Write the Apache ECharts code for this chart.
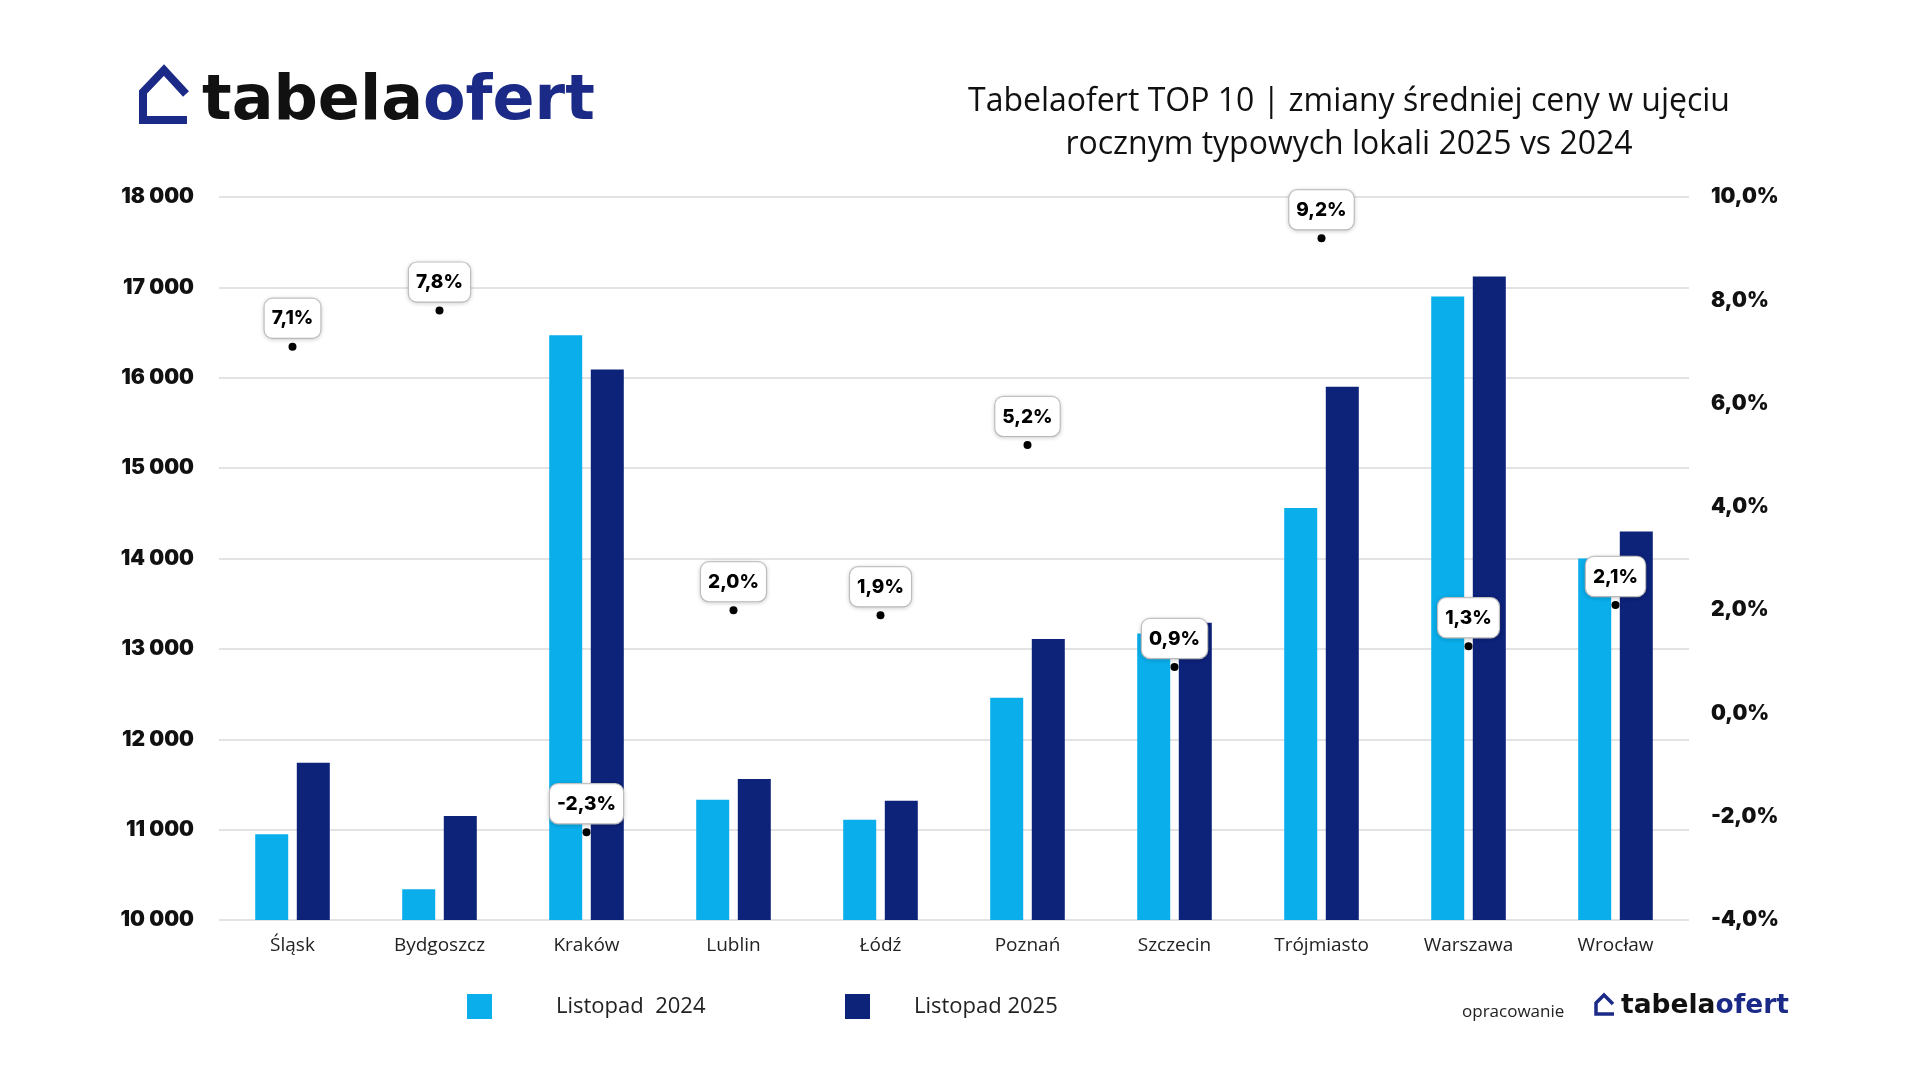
<!DOCTYPE html>
<html>
<head>
<meta charset="utf-8">
<script src="https://cdn.jsdelivr.net/npm/echarts@6/dist/echarts.min.js"></script>
<style>
html,body{margin:0;padding:0;background:#fff;}
#chart{width:1920px;height:1080px;}
</style>
</head>
<body>
<div id="chart"></div>
<script>
const categories = ['Śląsk','Bydgoszcz','Kraków','Lublin','Łódź','Poznań','Szczecin','Trójmiasto','Warszawa','Wrocław'];
const seriesNames = ['Listopad  2024','Listopad 2025','Zmiana r/r'];
const prices2024 = [10950, 10340, 16470, 11330, 11110, 12460, 13170, 14560, 16900, 14000];
const prices2025 = [11740, 11150, 16090, 11560, 11320, 13110, 13290, 15900, 17120, 14300];
const changePct = [7.1, 7.8, -2.3, 2.0, 1.9, 5.2, 0.9, 9.2, 1.3, 2.1];
const titleLines = ['Tabelaofert TOP 10 | zmiany średniej ceny w ujęciu','rocznym typowych lokali 2025 vs 2024'];

const LIGHT = '#0AAEEB';
const DARK = '#0D2279';
const NAVY = '#1B2A86';

const chart = echarts.init(document.getElementById('chart'), null, {renderer:'canvas'});

const fmtThousands = v => String(v).replace(/\B(?=(\d{3})+(?!\d))/g, ' ');
const fmtPct = v => v.toFixed(1).replace('.', ',') + '%';

const legendBase = {
  top: 994, padding: 0, itemWidth: 25, itemHeight: 25, icon: 'rect'
};

const option = {
  backgroundColor: '#ffffff',
  animation: false,
  title: {
    text: titleLines.join('\n'),
    left: 1344, top: 75, textAlign: 'center',
    textStyle: {fontFamily: 'Open Sans', fontWeight: 'normal', fontSize: 32, lineHeight: 43, color: '#111'}
  },
  legend: [
    Object.assign({}, legendBase, {
      data: [seriesNames[0]], left: 467,
      textStyle: {fontFamily: 'Open Sans', fontSize: 22, color: '#222', padding: [0,0,0,59]}
    }),
    Object.assign({}, legendBase, {
      data: [seriesNames[1]], left: 845,
      textStyle: {fontFamily: 'Open Sans', fontSize: 22, color: '#222', padding: [0,0,0,39]}
    })
  ],
  grid: {left: 219, right: 231, top: 197, bottom: 160},
  xAxis: {
    type: 'category', data: categories,
    axisLine: {show: false}, axisTick: {show: false},
    axisLabel: {fontFamily: 'Open Sans', fontSize: 19, color: '#222', margin: 16}
  },
  yAxis: [
    {
      type: 'value', min: 10000, max: 18000, interval: 1000,
      axisLine: {show: false}, axisTick: {show: false},
      splitLine: {lineStyle: {color: '#DADADA', width: 1.5}},
      axisLabel: {formatter: fmtThousands, fontFamily: 'Inter', fontWeight: 900, fontSize: 21, color: '#111', margin: 25}
    },
    {
      type: 'value', min: -4, max: 10, interval: 2, position: 'right',
      axisLine: {show: false}, axisTick: {show: false}, splitLine: {show: false},
      axisLabel: {formatter: fmtPct, fontFamily: 'Inter', fontWeight: 900, fontSize: 21, color: '#111', margin: 22}
    }
  ],
  series: [
    {name: seriesNames[0], type: 'bar', data: prices2024, barWidth: 33, barGap: '26%', itemStyle: {color: LIGHT}},
    {name: seriesNames[1], type: 'bar', data: prices2025, barWidth: 33, itemStyle: {color: DARK}},
    {
      name: seriesNames[2], type: 'scatter', yAxisIndex: 1, data: changePct,
      symbol: 'circle', symbolSize: 8, itemStyle: {color: '#000', opacity: 1}, z: 10,
      label: {
        show: true, position: 'top', distance: 5,
        formatter: p => fmtPct(p.value),
        fontFamily: 'Inter', fontWeight: 800, fontSize: 19, lineHeight: 20, color: '#000',
        backgroundColor: '#fff', borderColor: '#C9C9C9', borderWidth: 1.2, borderRadius: 8,
        padding: [10, 7, 9, 7], opacity: 1,
        shadowColor: 'rgba(0,0,0,0.15)', shadowBlur: 4, shadowOffsetY: 1
      }
    }
  ],
  graphic: [
    {type: 'polyline', shape: {points: [[187,120],[143,120],[143,92],[164,70],[186,94]]},
     style: {stroke: NAVY, lineWidth: 8, fill: null, lineJoin: 'miter'}},
    {type: 'text', left: 202, top: 72,
     style: {text: '{a|tabela}{b|ofert}', rich: {
       a: {fontFamily: 'DejaVu Sans', fontWeight: 'bold', fontSize: 62, fill: '#111'},
       b: {fontFamily: 'DejaVu Sans', fontWeight: 'bold', fontSize: 62, fill: NAVY}}}},
    {type: 'text', left: 1462, top: 1004,
     style: {text: 'opracowanie', fontFamily: 'Open Sans', fontSize: 17, fill: '#222'}},
    {type: 'polyline', shape: {points: [[1614,1014],[1596,1014],[1596,1003],[1604,995],[1613,1004]]},
     style: {stroke: NAVY, lineWidth: 3.5, fill: null, lineJoin: 'miter'}},
    {type: 'text', left: 1621, top: 993,
     style: {text: '{a|tabela}{b|ofert}', rich: {
       a: {fontFamily: 'DejaVu Sans', fontWeight: 'bold', fontSize: 26.5, fill: '#111'},
       b: {fontFamily: 'DejaVu Sans', fontWeight: 'bold', fontSize: 26.5, fill: NAVY}}}}
  ]
};
chart.setOption(option);
</script>
</body>
</html>
